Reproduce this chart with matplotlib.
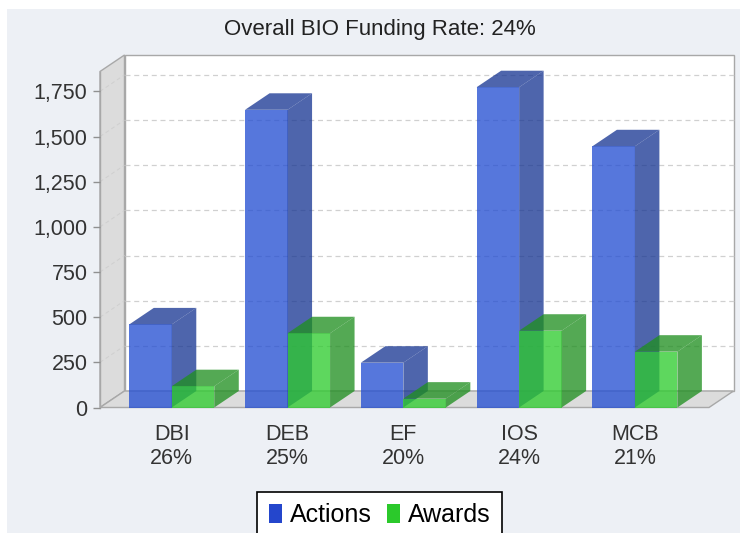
import matplotlib
matplotlib.use('Agg')
import matplotlib.pyplot as plt
from matplotlib.patches import Polygon, Rectangle
from matplotlib.colors import to_rgb

categories = ['DBI', 'DEB', 'EF', 'IOS', 'MCB']
rates = ['26%', '25%', '20%', '24%', '21%']
actions = [460, 1648, 248, 1773, 1446]
awards = [118, 411, 49, 425, 309]
yticks = [0, 250, 500, 750, 1000, 1250, 1500, 1750]

plt.rcParams['font.family'] = ['Liberation Sans', 'DejaVu Sans']

W, H = 740, 533
fig = plt.figure(figsize=(W / 100, H / 100), dpi=100)
fig.patch.set_facecolor('white')
fig.patches.append(Rectangle((7 / W, 0), 1, 1 - 9 / H, transform=fig.transFigure,
                             facecolor='#edf0f5', edgecolor='none', zorder=-5))

# front plane of the 3d plot
ax = fig.add_axes([100 / W, (H - 407.5) / H, 609 / W, 336 / H])
xmin, xmax = -0.62, 4.64
ymax = 1860
ax.set_xlim(xmin, xmax)
ax.set_ylim(0, ymax)
ax.patch.set_visible(False)
for s in ax.spines.values():
    s.set_visible(False)

# depth offset in data units (24.5 px right, 16.5 px up)
dx = 24.5 * (xmax - xmin) / 609
dy = 16.5 * ymax / 336

wall = '#dcdcdc'
edge = '#a8a8a8'
ax.add_patch(Rectangle((xmin + dx, dy), xmax - xmin, ymax, facecolor='white',
                       edgecolor=edge, lw=1, clip_on=False, zorder=0))
ax.add_patch(Polygon([(xmin, 0), (xmin + dx, dy), (xmin + dx, ymax + dy), (xmin, ymax)],
                     facecolor=wall, edgecolor=edge, lw=1, clip_on=False, zorder=0))
ax.add_patch(Polygon([(xmin, 0), (xmax, 0), (xmax + dx, dy), (xmin + dx, dy)],
                     facecolor=wall, edgecolor=edge, lw=1, clip_on=False, zorder=0))

for t in yticks[1:]:
    ax.plot([xmin + dx, xmax + dx], [t + dy, t + dy], color='#d0d0d0', lw=0.9,
            ls=(0, (4, 3)), clip_on=False, zorder=1)
    ax.plot([xmin, xmin + dx], [t, t + dy], color='#cfcfcf', lw=0.7,
            ls=(0, (4, 3)), clip_on=False, zorder=1)

blue = '#234ed2'
green = '#2ecc2e'
alpha = 0.77
bw = 0.367


def faces(x0, v, color, z):
    dark = tuple(0.7 * c for c in to_rgb(color))
    x1 = x0 + bw
    ax.add_patch(Polygon([(x1, 0), (x1 + dx, dy), (x1 + dx, v + dy), (x1, v)],
                         facecolor=dark, alpha=alpha, lw=0, clip_on=False, zorder=z))
    ax.add_patch(Polygon([(x0, v), (x1, v), (x1 + dx, v + dy), (x0 + dx, v + dy)],
                         facecolor=dark, alpha=alpha, lw=0, clip_on=False, zorder=z))


for i in range(len(categories)):
    z = 2 + i * 2
    ax.bar(i - bw, actions[i], bw, align='edge', color=blue, alpha=alpha, lw=0, zorder=z)
    faces(i - bw, actions[i], blue, z)
    ax.bar(i, awards[i], bw, align='edge', color=green, alpha=alpha, lw=0, zorder=z + 1)
    faces(i, awards[i], green, z + 1)

ax.set_yticks(yticks)
ax.set_yticklabels(['{:,}'.format(t) for t in yticks])
ax.set_xticks(range(len(categories)))
ax.set_xticklabels([c + '\n' + r for c, r in zip(categories, rates)])
ax.tick_params(axis='y', direction='out', length=5, width=1, color='#909090',
               labelsize=15.5, labelcolor='#333333', pad=4)
ax.tick_params(axis='x', length=0, labelsize=15.5, labelcolor='#333333', pad=12)
ax.plot([xmin, xmin], [0, ymax], color=edge, lw=1, clip_on=False, zorder=1)

fig.text(380 / W, 1 - 30 / H, 'Overall BIO Funding Rate: 24%', ha='center', va='center',
         fontsize=16, color='#222222')

handles = [Rectangle((0, 0), 1, 1, facecolor='#2446cc'),
           Rectangle((0, 0), 1, 1, facecolor='#2bc92b')]
leg = fig.legend(handles, ['Actions', 'Awards'], loc='upper center',
                 bbox_to_anchor=(379.5 / W, 1 - 492 / H), ncol=2, frameon=True,
                 fancybox=False, edgecolor='black', facecolor='white', framealpha=1,
                 fontsize=18, handlelength=0.55, handleheight=0.8, handletextpad=0.3,
                 columnspacing=0.6, borderpad=0.45, borderaxespad=0)
leg.get_frame().set_linewidth(1.2)

fig.savefig('out.png', dpi=100)
